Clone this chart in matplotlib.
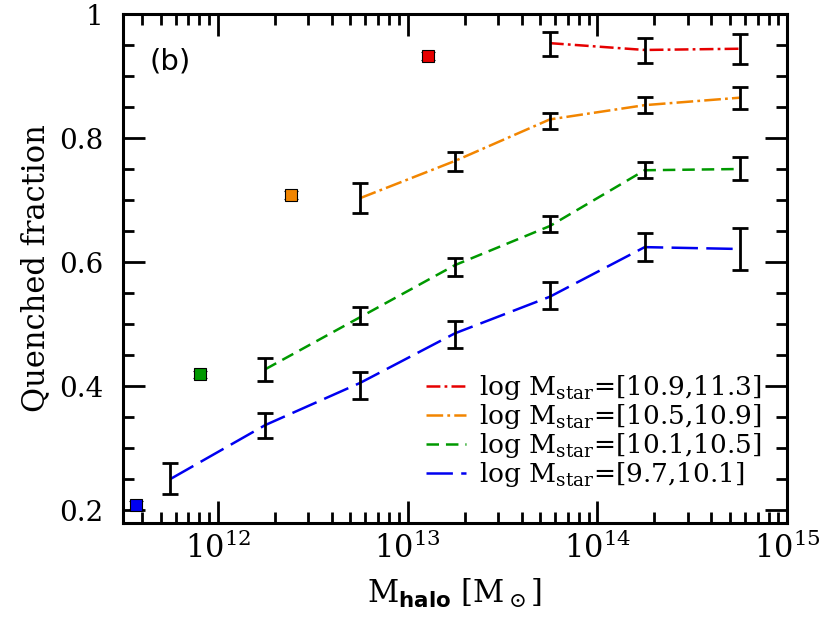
import numpy as np
import matplotlib
matplotlib.use("Agg")
import matplotlib.pyplot as plt
from matplotlib.ticker import MultipleLocator, FixedLocator, FixedFormatter, LogLocator

plt.rcParams.update({
    'font.family': 'DejaVu Serif',
    'mathtext.fontset': 'custom',
    'mathtext.rm': 'DejaVu Serif',
    'mathtext.it': 'DejaVu Serif:italic',
    'mathtext.bf': 'DejaVu Sans:bold',
    'lines.scale_dashes': False,
})

# halo mass bin centres (log10 M_halo)
logm = [11.75, 12.25, 12.75, 13.25, 13.75, 14.25, 14.75]

# quenched fraction per stellar mass bin, with error bar lower / upper ends
q_lo = [0.250, 0.337, 0.405, 0.485, 0.544, 0.624, 0.621]
q_lo_bot = [0.226, 0.316, 0.379, 0.461, 0.524, 0.602, 0.587]
q_lo_top = [0.276, 0.356, 0.423, 0.505, 0.568, 0.647, 0.655]

q_mid = [0.427, 0.511, 0.595, 0.658, 0.748, 0.750]
q_mid_bot = [0.408, 0.500, 0.577, 0.648, 0.735, 0.732]
q_mid_top = [0.445, 0.527, 0.606, 0.674, 0.761, 0.769]

q_hi = [0.703, 0.763, 0.830, 0.853, 0.865]
q_hi_bot = [0.679, 0.747, 0.815, 0.840, 0.847]
q_hi_top = [0.727, 0.777, 0.840, 0.866, 0.882]

q_top = [0.953, 0.942, 0.944]
q_top_bot = [0.932, 0.921, 0.919]
q_top_top = [0.971, 0.961, 0.968]

# single squares (central galaxies) per stellar mass bin
sq_logm = [11.57, 11.905, 12.385, 13.11]
sq_q = [0.208, 0.419, 0.708, 0.932]
sq_err = [0.006, 0.006, 0.006, 0.006]

labels = [r"log M$_{\rm star}$=[10.9,11.3]",
          r"log M$_{\rm star}$=[10.5,10.9]",
          r"log M$_{\rm star}$=[10.1,10.5]",
          r"log M$_{\rm star}$=[9.7,10.1]"]
colors = ['#e60000', '#f28500', '#009900', '#0000f0']
dashes = [(10, 3, 2, 3), (12, 3, 2, 3), (9, 5), (19, 6)]

ytick_vals = [0.2, 0.4, 0.6, 0.8, 1.0]
ytick_labels = ['0.2', '0.4', '0.6', '0.8', '1']

fig = plt.figure(figsize=(8.22, 6.17), dpi=100)
ax = fig.add_axes([0.1496, 0.1523, 0.8078, 0.825])

series = [(q_top, q_top_bot, q_top_top), (q_hi, q_hi_bot, q_hi_top),
          (q_mid, q_mid_bot, q_mid_top), (q_lo, q_lo_bot, q_lo_top)]
for i, (q, lo, hi) in enumerate(series):
    m = 10 ** np.array(logm[-len(q):])
    q = np.array(q)
    ax.plot(m, q, color=colors[i], lw=1.8, dashes=dashes[i], label=labels[i], zorder=3)
    ax.errorbar(m, q, yerr=[q - np.array(lo), np.array(hi) - q], fmt='none',
                ecolor='black', elinewidth=2, capsize=6, capthick=2, zorder=4)

for i in range(4):
    j = 3 - i
    ax.errorbar(10 ** sq_logm[i], sq_q[i], yerr=sq_err[i], fmt='s', ms=9,
                mfc=colors[j], mec='black', mew=0.8, ecolor='black',
                elinewidth=1.5, capsize=5, capthick=2, zorder=5)

ax.set_xscale('log')
ax.set_xlim(10 ** 11.5, 1e15)
ax.set_ylim(0.179, 1.0)
ax.xaxis.set_major_locator(LogLocator(base=10, numticks=10))
ax.xaxis.set_minor_locator(LogLocator(base=10, subs=np.arange(2, 10), numticks=20))
ax.yaxis.set_major_locator(FixedLocator(ytick_vals))
ax.yaxis.set_major_formatter(FixedFormatter(ytick_labels))
ax.yaxis.set_minor_locator(MultipleLocator(0.05))

ax.tick_params(which='both', direction='in', top=True, right=True, width=2, color='black')
ax.tick_params(which='major', length=16)
ax.tick_params(which='minor', length=8)
ax.tick_params(axis='x', which='major', labelsize=22, pad=7)
ax.tick_params(axis='y', which='major', labelsize=20, pad=14)
for s in ax.spines.values():
    s.set_linewidth(2.2)

ax.set_xlabel(r"M$_{\mathbf{halo}}$ [M$_\odot$]", fontsize=22, labelpad=8)
ax.set_ylabel("Quenched fraction", fontsize=22, labelpad=6)

ax.text(0.04, 0.89, "(b)", transform=ax.transAxes, fontsize=21, family='DejaVu Sans')

ax.legend(loc='lower right', bbox_to_anchor=(0.99, 0.03), frameon=False,
          fontsize=19, handlelength=1.5, handletextpad=0.5, labelspacing=0.0,
          borderpad=0.2)

fig.savefig("out.png", dpi=100)
